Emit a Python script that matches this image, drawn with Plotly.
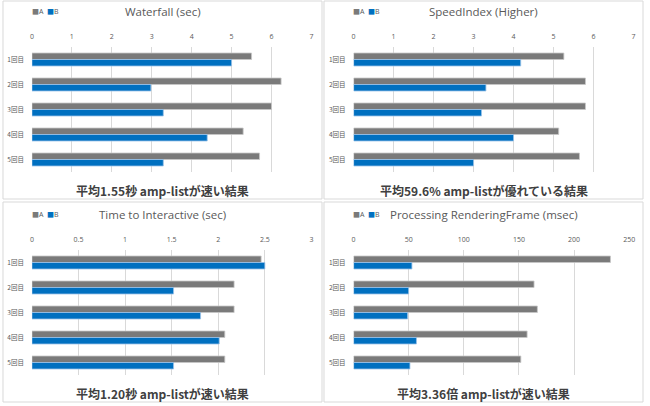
import plotly.graph_objects as go

W, H = 650, 406

categories = ["1回目", "2回目", "3回目", "4回目", "5回目"]

waterfall_a = [5.50, 6.24, 6.00, 5.29, 5.70]
waterfall_b = [5.00, 2.98, 3.29, 4.39, 3.29]

speedindex_a = [5.26, 5.80, 5.80, 5.13, 5.65]
speedindex_b = [4.18, 3.31, 3.20, 4.00, 3.00]

tti_a = [2.46, 2.17, 2.17, 2.07, 2.07]
tti_b = [2.50, 1.52, 1.81, 2.01, 1.52]

prf_a = [233.0, 163.7, 166.7, 157.4, 151.7]
prf_b = [52.9, 49.9, 49.0, 57.0, 51.1]

titles = ["Waterfall (sec)", "SpeedIndex (Higher)",
          "Time to Interactive (sec)", "Processing RenderingFrame (msec)"]
captions = ["平均1.55秒 amp-listが速い結果", "平均59.6% amp-listが優れている結果",
            "平均1.20秒 amp-listが速い結果", "平均3.36倍 amp-listが速い結果"]
x_ranges = [(0, 7, 1), (0, 7, 1), (0, 3, 0.5), (0, 250, 50)]
series = [(waterfall_a, waterfall_b), (speedindex_a, speedindex_b),
          (tti_a, tti_b), (prf_a, prf_b)]

COLOR_A = "#7a7a7a"
COLOR_B = "#0070c0"
TXT = "#595959"
FONT = "Open Sans, Noto Sans CJK JP, sans-serif"
CJK = "Noto Sans CJK JP, sans-serif"

# panel boxes in pixel coords (x0, y0, x1, y1)
panels = [(1, 1, 324, 199), (326, 1, 649, 199), (1, 202, 324, 402), (326, 202, 649, 402)]
# plot areas in pixel coords
plots = [(30.3, 47, 313.3, 172), (356, 47, 639.3, 172),
         (30.3, 250, 313.3, 375), (356, 250, 635, 375)]
title_y = [12, 12, 214, 214]
caption_y = [190, 190, 393, 393]


def px(x):
    return x / W


def py(y):
    return 1 - y / H


fig = go.Figure()
shapes = []
annotations = []

for i in range(4):
    ax = "" if i == 0 else str(i + 1)
    a_vals, b_vals = series[i]
    fig.add_trace(go.Bar(y=categories, x=a_vals, orientation="h", name="A",
                         marker=dict(color=COLOR_A, line=dict(color="#c8c8c8", width=0.8)),
                         xaxis="x" + ax, yaxis="y" + ax, showlegend=False))
    fig.add_trace(go.Bar(y=categories, x=b_vals, orientation="h", name="B",
                         marker=dict(color=COLOR_B, line=dict(color="#9cc3e8", width=0.8)),
                         xaxis="x" + ax, yaxis="y" + ax, showlegend=False))
    x0, y0, x1, y1 = plots[i]
    r0, r1, dt = x_ranges[i]
    fig.update_layout(**{
        "xaxis" + ax: dict(domain=[px(x0), px(x1)], range=[r0, r1], dtick=dt, tick0=0,
                           side="top", anchor="y" + ax, showgrid=True, gridcolor="#d9d9d9",
                           gridwidth=1, zeroline=False, showline=False, ticks="",
                           tickfont=dict(size=7, color=TXT, family=FONT),
                           ticklabelstandoff=6, fixedrange=True),
        "yaxis" + ax: dict(domain=[py(y1), py(y0)], range=[4.5, -0.5], anchor="x" + ax,
                           showgrid=False, zeroline=False, showline=False, ticks="",
                           tickfont=dict(size=6.5, color=TXT, family=CJK),
                           ticklabelstandoff=7, fixedrange=True),
    })
    bx0, by0, bx1, by1 = panels[i]
    shapes.append(dict(type="rect", xref="paper", yref="paper",
                       x0=px(bx0), x1=px(bx1), y0=py(by1), y1=py(by0),
                       line=dict(color="#d9d9d9", width=1), fillcolor="rgba(0,0,0,0)"))
    cx = (bx0 + bx1) / 2
    annotations.append(dict(text=titles[i], x=px(cx), y=py(title_y[i]), xref="paper", yref="paper",
                            showarrow=False, xanchor="center", yanchor="middle",
                            font=dict(size=11.5, color=TXT, family=FONT)))
    annotations.append(dict(text="<b>" + captions[i] + "</b>", x=px(cx), y=py(caption_y[i]),
                            xref="paper", yref="paper", showarrow=False,
                            xanchor="center", yanchor="middle",
                            font=dict(size=12, color="#404040", family=CJK)))
    lx = bx0 + 27
    annotations.append(dict(text='<span style="color:%s">■</span>A  <span style="color:%s">■</span>B'
                            % (COLOR_A, COLOR_B),
                            x=px(lx), y=py(title_y[i]), xref="paper", yref="paper",
                            showarrow=False, xanchor="left", yanchor="middle",
                            font=dict(size=7, color=TXT, family=FONT)))

fig.update_layout(width=W, height=H, margin=dict(l=0, r=0, t=0, b=0),
                  paper_bgcolor="white", plot_bgcolor="white",
                  barmode="group", bargap=0.48, bargroupgap=0,
                  shapes=shapes, annotations=annotations, showlegend=False)

fig.write_html("out.html", config={"displayModeBar": False},
               post_script="document.body.style.margin='0';document.body.style.padding='0';")
